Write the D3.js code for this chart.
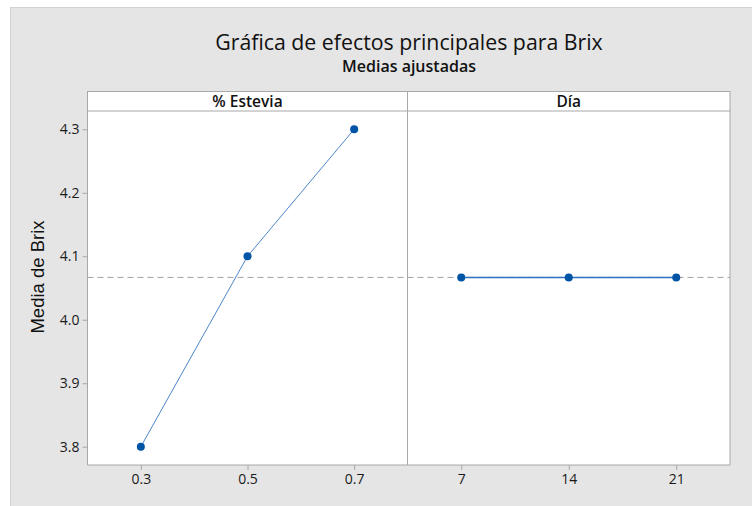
<!DOCTYPE html>
<html>
<head>
<meta charset="utf-8">
<script src="https://cdn.jsdelivr.net/npm/d3@7"></script>
<style>
  body { margin: 0; background: #fff; }
  svg { display: block; font-family: "Open Sans", "Noto Sans", sans-serif; }
</style>
</head>
<body>
<svg></svg>
<script>
// Data
const esteviaLevels = ["0.3", "0.5", "0.7"];
const esteviaMeans = [3.8, 4.1, 4.3];
const diaLevels = ["7", "14", "21"];
const diaMeans = [4.0667, 4.0667, 4.0667];
const overallMean = 4.0667;
const yTicks = [3.8, 3.9, 4.0, 4.1, 4.2, 4.3];

const width = 752, height = 506;
const svg = d3.select("svg").attr("width", width).attr("height", height);

// grey frame
svg.append("rect")
  .attr("x", 10.5).attr("y", 7.5)
  .attr("width", width).attr("height", height)
  .attr("fill", "#e5e5e5").attr("stroke", "#d2d2d2");

// titles
svg.append("text")
  .attr("x", 409).attr("y", 50)
  .attr("text-anchor", "middle")
  .attr("font-size", 21.3).attr("fill", "#111")
  .text("Gráfica de efectos principales para Brix");
svg.append("text")
  .attr("x", 409).attr("y", 72)
  .attr("text-anchor", "middle")
  .attr("font-size", 16).attr("font-weight", 600).attr("fill", "#111")
  .text("Medias ajustadas");

// layout
const plotTop = 111, plotBottom = 465, headTop = 91.5;
const panels = [
  { name: "% Estevia", levels: esteviaLevels, means: esteviaMeans, x0: 87.5, x1: 407.5 },
  { name: "Día", levels: diaLevels, means: diaMeans, x0: 407.5, x1: 730 }
];

const y = d3.scaleLinear().domain([3.7712, 4.3288]).range([plotBottom, plotTop]);

// y axis label
svg.append("text")
  .attr("transform", `translate(44,${(plotTop + plotBottom) / 2 - 11}) rotate(-90)`)
  .attr("text-anchor", "middle")
  .attr("font-family", "Liberation Sans, Arial, sans-serif")
  .attr("font-size", 18.5).attr("fill", "#111")
  .text("Media de Brix");

panels.forEach((p, idx) => {
  const g = svg.append("g");
  // plot area
  g.append("rect")
    .attr("x", p.x0).attr("y", plotTop)
    .attr("width", p.x1 - p.x0).attr("height", plotBottom - plotTop)
    .attr("fill", "#fff");
  // header strip
  g.append("rect")
    .attr("x", p.x0).attr("y", headTop)
    .attr("width", p.x1 - p.x0).attr("height", plotTop - headTop)
    .attr("fill", "#fff").attr("stroke", "#a8a8a8");
  g.append("text")
    .attr("x", (p.x0 + p.x1) / 2).attr("y", headTop + 15)
    .attr("text-anchor", "middle")
    .attr("font-size", 15.5).attr("font-weight", 600).attr("fill", "#111")
    .text(p.name);

  const x = d3.scalePoint().domain(p.levels).range([p.x0, p.x1]).padding(0.5);

  // x axis
  const xAxis = g.append("g")
    .attr("transform", `translate(0,${plotBottom})`)
    .call(d3.axisBottom(x).tickSize(5).tickPadding(4));
  xAxis.select(".domain").remove();
  xAxis.selectAll("line").attr("stroke", "#a8a8a8");
  xAxis.selectAll("text").attr("font-size", 14).attr("fill", "#1a1a1a")
    .attr("font-family", "Open Sans, sans-serif");

  if (idx === 0) {
    const yAxis = g.append("g")
      .attr("transform", `translate(${p.x0},0)`)
      .call(d3.axisLeft(y).tickValues(yTicks).tickFormat(d3.format(".1f")).tickSize(5).tickPadding(3));
    yAxis.select(".domain").remove();
    yAxis.selectAll("line").attr("stroke", "#a8a8a8");
    yAxis.selectAll("text").attr("font-size", 14).attr("fill", "#1a1a1a")
      .attr("font-family", "Open Sans, sans-serif");
  }

  // reference line at overall mean
  g.append("line")
    .attr("x1", p.x0).attr("x2", p.x1)
    .attr("y1", y(overallMean)).attr("y2", y(overallMean))
    .attr("stroke", "#a0a0a0").attr("stroke-dasharray", "6,4");

  // effect line
  const line = d3.line().x((d, i) => x(p.levels[i])).y(d => y(d));
  g.append("path")
    .datum(p.means)
    .attr("d", line)
    .attr("fill", "none")
    .attr("stroke", idx === 0 ? "#4d86c8" : "#2f70c0")
    .attr("stroke-width", idx === 0 ? 1 : 1.5);

  g.selectAll("circle").data(p.means).enter()
    .append("circle")
    .attr("cx", (d, i) => x(p.levels[i]))
    .attr("cy", d => y(d))
    .attr("r", 4)
    .attr("fill", "#0054a6");

  // panel border (left, right, bottom)
  g.append("path")
    .attr("d", `M${p.x0},${plotTop}V${plotBottom}H${p.x1}V${plotTop}`)
    .attr("fill", "none").attr("stroke", "#a8a8a8");
});
</script>
</body>
</html>
